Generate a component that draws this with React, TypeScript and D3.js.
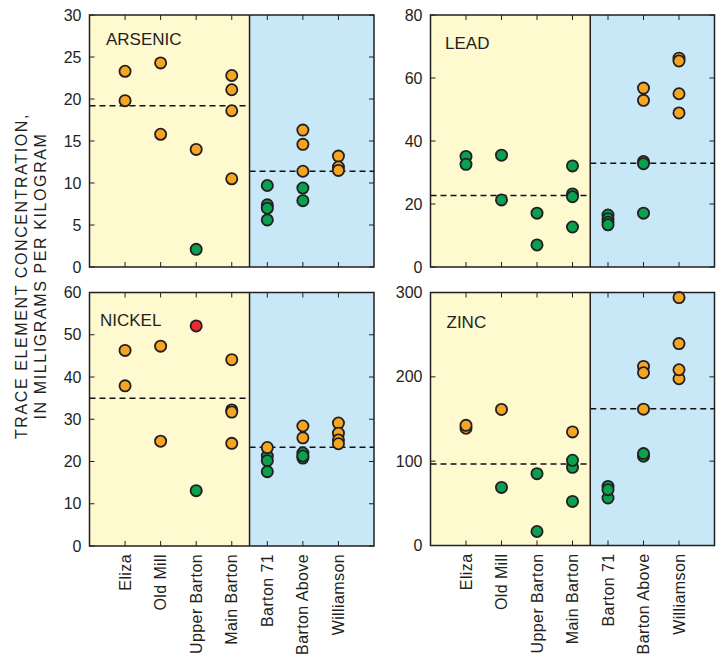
import React from 'react';
import * as d3 from 'd3';

const sites = ['Eliza', 'Old Mill', 'Upper Barton', 'Main Barton', 'Barton 71', 'Barton Above', 'Williamson'];

type Pt = { site: string; v: number; c: 'o' | 'g' | 'r' };

const arsenic: Pt[] = [
  { site: 'Eliza', v: 23.3, c: 'o' }, { site: 'Eliza', v: 19.8, c: 'o' },
  { site: 'Old Mill', v: 24.3, c: 'o' }, { site: 'Old Mill', v: 15.8, c: 'o' },
  { site: 'Upper Barton', v: 14.0, c: 'o' }, { site: 'Upper Barton', v: 2.1, c: 'g' },
  { site: 'Main Barton', v: 22.8, c: 'o' }, { site: 'Main Barton', v: 21.1, c: 'o' },
  { site: 'Main Barton', v: 18.6, c: 'o' }, { site: 'Main Barton', v: 10.5, c: 'o' },
  { site: 'Barton 71', v: 9.7, c: 'g' }, { site: 'Barton 71', v: 7.4, c: 'g' },
  { site: 'Barton 71', v: 7.0, c: 'g' }, { site: 'Barton 71', v: 5.6, c: 'g' },
  { site: 'Barton Above', v: 16.3, c: 'o' }, { site: 'Barton Above', v: 14.6, c: 'o' },
  { site: 'Barton Above', v: 11.4, c: 'o' }, { site: 'Barton Above', v: 9.4, c: 'g' },
  { site: 'Barton Above', v: 7.9, c: 'g' },
  { site: 'Williamson', v: 13.2, c: 'o' }, { site: 'Williamson', v: 11.9, c: 'o' },
  { site: 'Williamson', v: 11.5, c: 'o' },
];

const lead: Pt[] = [
  { site: 'Eliza', v: 35.1, c: 'g' }, { site: 'Eliza', v: 32.6, c: 'g' },
  { site: 'Old Mill', v: 35.5, c: 'g' }, { site: 'Old Mill', v: 21.3, c: 'g' },
  { site: 'Upper Barton', v: 17.1, c: 'g' }, { site: 'Upper Barton', v: 7.0, c: 'g' },
  { site: 'Main Barton', v: 32.1, c: 'g' }, { site: 'Main Barton', v: 23.2, c: 'g' },
  { site: 'Main Barton', v: 22.3, c: 'g' }, { site: 'Main Barton', v: 12.7, c: 'g' },
  { site: 'Barton 71', v: 16.5, c: 'g' }, { site: 'Barton 71', v: 15.3, c: 'g' },
  { site: 'Barton 71', v: 14.2, c: 'g' }, { site: 'Barton 71', v: 13.4, c: 'g' },
  { site: 'Barton Above', v: 56.8, c: 'o' }, { site: 'Barton Above', v: 52.9, c: 'o' },
  { site: 'Barton Above', v: 33.5, c: 'g' }, { site: 'Barton Above', v: 32.8, c: 'g' },
  { site: 'Barton Above', v: 17.1, c: 'g' },
  { site: 'Williamson', v: 66.3, c: 'o' }, { site: 'Williamson', v: 65.4, c: 'o' },
  { site: 'Williamson', v: 55.0, c: 'o' }, { site: 'Williamson', v: 48.9, c: 'o' },
];

const nickel: Pt[] = [
  { site: 'Eliza', v: 46.3, c: 'o' }, { site: 'Eliza', v: 37.9, c: 'o' },
  { site: 'Old Mill', v: 47.3, c: 'o' }, { site: 'Old Mill', v: 24.8, c: 'o' },
  { site: 'Upper Barton', v: 52.1, c: 'r' }, { site: 'Upper Barton', v: 13.1, c: 'g' },
  { site: 'Main Barton', v: 44.1, c: 'o' }, { site: 'Main Barton', v: 32.2, c: 'o' },
  { site: 'Main Barton', v: 31.7, c: 'o' }, { site: 'Main Barton', v: 24.3, c: 'o' },
  { site: 'Barton 71', v: 21.3, c: 'g' }, { site: 'Barton 71', v: 23.3, c: 'o' },
  { site: 'Barton 71', v: 20.2, c: 'g' }, { site: 'Barton 71', v: 17.6, c: 'g' },
  { site: 'Barton Above', v: 28.4, c: 'o' }, { site: 'Barton Above', v: 25.6, c: 'o' },
  { site: 'Barton Above', v: 20.8, c: 'g' }, { site: 'Barton Above', v: 22.0, c: 'g' },
  { site: 'Barton Above', v: 21.3, c: 'g' },
  { site: 'Williamson', v: 29.1, c: 'o' }, { site: 'Williamson', v: 26.7, c: 'o' },
  { site: 'Williamson', v: 25.1, c: 'o' }, { site: 'Williamson', v: 24.2, c: 'o' },
];

const zinc: Pt[] = [
  { site: 'Eliza', v: 139, c: 'o' }, { site: 'Eliza', v: 142.5, c: 'o' },
  { site: 'Old Mill', v: 161.3, c: 'o' }, { site: 'Old Mill', v: 68.9, c: 'g' },
  { site: 'Upper Barton', v: 85.2, c: 'g' }, { site: 'Upper Barton', v: 16.6, c: 'g' },
  { site: 'Main Barton', v: 134.7, c: 'o' }, { site: 'Main Barton', v: 92.7, c: 'g' },
  { site: 'Main Barton', v: 101, c: 'g' }, { site: 'Main Barton', v: 52.3, c: 'g' },
  { site: 'Barton 71', v: 70, c: 'g' }, { site: 'Barton 71', v: 56.3, c: 'g' },
  { site: 'Barton 71', v: 66.2, c: 'g' },
  { site: 'Barton Above', v: 212.4, c: 'o' }, { site: 'Barton Above', v: 204.9, c: 'o' },
  { site: 'Barton Above', v: 161.7, c: 'o' }, { site: 'Barton Above', v: 105.8, c: 'g' },
  { site: 'Barton Above', v: 109, c: 'g' },
  { site: 'Williamson', v: 294, c: 'o' }, { site: 'Williamson', v: 239.4, c: 'o' },
  { site: 'Williamson', v: 197.7, c: 'o' }, { site: 'Williamson', v: 208.4, c: 'o' },
];

const elementNames = ['ARSENIC', 'LEAD', 'NICKEL', 'ZINC'];
const yMaxes = [30, 80, 60, 300];
const yStepSizes = [5, 20, 10, 100];
const meansMine = [19.2, 22.7, 35.0, 96.7];
const meansBackground = [11.4, 32.9, 23.4, 162.1];
const seriesList = [arsenic, lead, nickel, zinc];

const fillColors: Record<string, string> = { o: '#F5A522', g: '#0AA04F', r: '#EC2B2F' };
const FONT = "'Liberation Sans', Arial, Helvetica, sans-serif";
const TXT = '#231F20';

const layouts = [
  { x0: 89.5, x1: 374, y0: 15, y1: 267, tx: 106, ty: 45 },
  { x0: 430.5, x1: 714.5, y0: 15, y1: 267, tx: 445, ty: 49 },
  { x0: 89.5, x1: 374, y0: 292.5, y1: 546, tx: 100, ty: 325.5 },
  { x0: 430.5, x1: 714.5, y0: 292.5, y1: 545.5, tx: 446.5, ty: 328 },
];

function Panel({ idx }: { idx: number }) {
  const L = layouts[idx];
  const x = d3.scaleLinear().domain([0, 8]).range([L.x0, L.x1]);
  const y = d3.scaleLinear().domain([0, yMaxes[idx]]).range([L.y1, L.y0]);
  const ticks = d3.range(0, yMaxes[idx] + 0.001, yStepSizes[idx]);
  const pos = (s: string) => x(sites.indexOf(s) + 1);
  const divX = x(4.5);
  const pts = seriesList[idx];
  const showLabels = idx >= 2;
  return (
    <g>
      <rect x={L.x0} y={L.y0} width={divX - L.x0} height={L.y1 - L.y0} fill="#FEF9CF" />
      <rect x={divX} y={L.y0} width={L.x1 - divX} height={L.y1 - L.y0} fill="#C8E8F8" />
      {ticks.map((t) => (
        <g key={'yt' + t}>
          <line x1={L.x0} x2={L.x0 + 5} y1={y(t)} y2={y(t)} stroke={TXT} strokeWidth={1} />
          <line x1={L.x1 - 5} x2={L.x1} y1={y(t)} y2={y(t)} stroke={TXT} strokeWidth={1} />
          <text x={L.x0 - 8} y={y(t)} dy="0.35em" textAnchor="end" fontSize={16} fill={TXT} fontFamily={FONT}>{t}</text>
        </g>
      ))}
      {sites.map((s) => (
        <g key={'xt' + s}>
          <line x1={pos(s)} x2={pos(s)} y1={L.y0} y2={L.y0 + 5} stroke={TXT} strokeWidth={1} />
          <line x1={pos(s)} x2={pos(s)} y1={L.y1} y2={L.y1 - 5} stroke={TXT} strokeWidth={1} />
          {showLabels && (
            <text transform={`translate(${pos(s)},${L.y1 + 8}) rotate(-90)`} dy="0.35em" textAnchor="end" fontSize={16} letterSpacing={0.4} fill={TXT} fontFamily={FONT}>{s}</text>
          )}
        </g>
      ))}
      <line x1={L.x0} x2={divX} y1={y(meansMine[idx])} y2={y(meansMine[idx])} stroke="#111" strokeWidth={1.5} strokeDasharray="6,4" />
      <line x1={divX} x2={L.x1} y1={y(meansBackground[idx])} y2={y(meansBackground[idx])} stroke="#111" strokeWidth={1.5} strokeDasharray="6,4" />
      {pts.map((p, i) => (
        <circle key={i} cx={pos(p.site)} cy={y(p.v)} r={5.6} fill={fillColors[p.c]} stroke="#231F20" strokeWidth={1.8} />
      ))}
      <line x1={divX} x2={divX} y1={L.y0} y2={L.y1} stroke={TXT} strokeWidth={1.5} />
      <rect x={L.x0} y={L.y0} width={L.x1 - L.x0} height={L.y1 - L.y0} fill="none" stroke={TXT} strokeWidth={1.5} />
      <text x={L.tx} y={L.ty} fontSize={17} fill={TXT} fontFamily={FONT}>{elementNames[idx]}</text>
    </g>
  );
}

export default function App() {
  return (
    <svg width={720} height={658} style={{ position: 'absolute', left: 0, top: 0, background: '#fff' }}>
      <rect width={720} height={658} fill="#fff" />
      {[0, 1, 2, 3].map((i) => <Panel key={i} idx={i} />)}
      <g transform="translate(27,276) rotate(-90)">
        <text x={0} y={0} textAnchor="middle" fontSize={16} letterSpacing={1.6} fill={TXT} fontFamily={FONT}>TRACE ELEMENT CONCENTRATION,</text>
        <text x={0} y={18.5} textAnchor="middle" fontSize={16} letterSpacing={1.6} fill={TXT} fontFamily={FONT}>IN MILLIGRAMS PER KILOGRAM</text>
      </g>
    </svg>
  );
}
